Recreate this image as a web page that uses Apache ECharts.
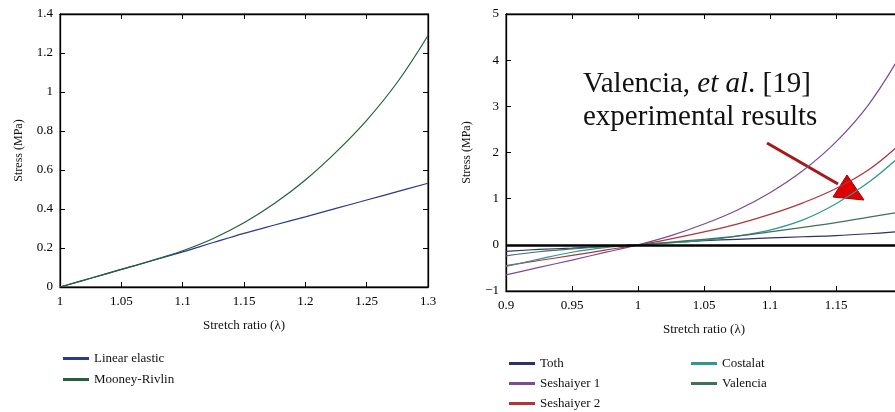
<!DOCTYPE html>
<html>
<head>
<meta charset="utf-8">
<script src="https://cdn.jsdelivr.net/npm/echarts@6/dist/echarts.min.js"></script>
<style>
  html, body { margin: 0; padding: 0; background: #fff; }
  #chart { width: 895px; height: 412px; }
</style>
</head>
<body>
<div id="chart"></div>
<script>
// left panel: stretch ratio vs stress
const leftX = [1, 1.025, 1.05, 1.075, 1.1, 1.125, 1.15, 1.175, 1.2, 1.225, 1.25, 1.275, 1.3]
const linearElastic = [0, 0.045, 0.09, 0.135, 0.18, 0.228, 0.275, 0.318, 0.36, 0.403, 0.446, 0.489, 0.532]
const mooneyRivlin = [0, 0.045, 0.09, 0.136, 0.186, 0.249, 0.329, 0.429, 0.549, 0.692, 0.855, 1.05, 1.29]

// right panel: model comparison
const rightX = [0.9, 0.925, 0.95, 0.975, 1, 1.025, 1.05, 1.075, 1.1, 1.125, 1.15, 1.175, 1.2]
const toth = [-0.14, -0.1, -0.07, -0.035, 0, 0.05, 0.09, 0.12, 0.15, 0.175, 0.2, 0.24, 0.29]
const seshaiyer1 = [-0.65, -0.49, -0.33, -0.165, 0, 0.2, 0.45, 0.75, 1.13, 1.61, 2.23, 3.05, 4.17]
const seshaiyer2 = [-0.45, -0.34, -0.23, -0.115, 0, 0.13, 0.28, 0.45, 0.66, 0.91, 1.22, 1.63, 2.22]
const costalat = [-0.47, -0.31, -0.16, -0.06, 0, 0.04, 0.1, 0.19, 0.32, 0.54, 0.89, 1.36, 1.96]
const valencia = [-0.24, -0.15, -0.09, -0.04, 0, 0.06, 0.12, 0.19, 0.28, 0.38, 0.48, 0.6, 0.72]

const leftXTicks = { min: 1, max: 1.3, interval: 0.05 }
const leftYTicks = { min: 0, max: 1.4, interval: 0.2 }
const rightXTicks = { min: 0.9, max: 1.2, interval: 0.05 }
const rightYTicks = { min: -1, max: 5, interval: 1 }

const serif = 'Liberation Serif'

function pairs(xs, ys) {
  return xs.map((x, i) => [x, ys[i]])
}

function fmt(v) {
  return String(+v.toFixed(2)).replace('-', '\u2212')
}

// main axis (with labels) + mirror axis (ticks only) for a boxed frame
function xAxes(gridIndex, ticks) {
  const base = {
    gridIndex,
    type: 'value',
    ...ticks,
    axisLine: { onZero: false, lineStyle: { color: '#000', width: 1.3 } },
    axisTick: { inside: true, length: 5, lineStyle: { color: '#000' } },
    splitLine: { show: false },
  }
  return [
    {
      ...base,
      position: 'bottom',
      axisLabel: { formatter: fmt, color: '#000', fontFamily: serif, fontSize: 13, margin: 8 },
      name: 'Stretch ratio (\u03bb)',
      nameLocation: 'middle',
      nameGap: 32,
      nameTextStyle: { color: '#111', fontFamily: serif, fontSize: 13 },
    },
    { ...base, position: 'top', axisLabel: { show: false } },
  ]
}

function yAxes(gridIndex, ticks, gap) {
  const base = {
    gridIndex,
    type: 'value',
    ...ticks,
    axisLine: { onZero: false, lineStyle: { color: '#000', width: 1.3 } },
    axisTick: { inside: true, length: 5, lineStyle: { color: '#000' } },
    splitLine: { show: false },
  }
  return [
    {
      ...base,
      position: 'left',
      axisLabel: { formatter: fmt, color: '#000', fontFamily: serif, fontSize: 13, margin: 7 },
      name: 'Stress (MPa)',
      nameLocation: 'middle',
      nameGap: gap,
      nameTextStyle: { color: '#111', fontFamily: serif, fontSize: 12 },
    },
    { ...base, position: 'right', axisLabel: { show: false } },
  ]
}

function line(name, xs, ys, color, axisIdx) {
  return {
    name,
    type: 'line',
    xAxisIndex: axisIdx,
    yAxisIndex: axisIdx,
    data: pairs(xs, ys),
    smooth: 0.4,
    showSymbol: false,
    lineStyle: { color, width: 1.2 },
    itemStyle: { color },
  }
}

const legendText = { color: '#111', fontFamily: serif, fontSize: 13 }
const legendBase = {
  orient: 'vertical', height: 70, itemWidth: 26, itemHeight: 3, itemGap: 7,
  icon: 'rect', textStyle: legendText,
}

const option = {
  animation: false,
  grid: [
    { left: 60, top: 14, width: 368, height: 273, show: true, borderColor: '#000', borderWidth: 1, outerBoundsMode: 'none' },
    // right panel runs past the page edge, as in the cropped original
    { left: 506, top: 14, width: 396, height: 277, show: true, borderColor: '#000', borderWidth: 1, outerBoundsMode: 'none' },
  ],
  xAxis: [...xAxes(0, leftXTicks), ...xAxes(1, rightXTicks)],
  yAxis: [...yAxes(0, leftYTicks, 35), ...yAxes(1, rightYTicks, 33)],
  legend: [
    { ...legendBase, data: ['Linear elastic', 'Mooney-Rivlin'], left: 58, top: 347, itemGap: 8 },
    { ...legendBase, data: ['Toth', 'Seshaiyer 1', 'Seshaiyer 2'], left: 504, top: 352 },
    { ...legendBase, data: ['Costalat', 'Valencia'], left: 686, top: 352 },
  ],
  series: [
    line('Linear elastic', leftX, linearElastic, '#2a3a8c', 0),
    line('Mooney-Rivlin', leftX, mooneyRivlin, '#24603a', 0),
    line('Toth', rightX, toth, '#2c3266', 2),
    line('Seshaiyer 1', rightX, seshaiyer1, '#7d4a94', 2),
    line('Seshaiyer 2', rightX, seshaiyer2, '#b2343a', 2),
    line('Costalat', rightX, costalat, '#2f9595', 2),
    {
      ...line('Valencia', rightX, valencia, '#3f7258', 2),
      // thick zero reference line
      markLine: {
        silent: true,
        symbol: 'none',
        label: { show: false },
        lineStyle: { color: '#000', width: 2.5, type: 'solid' },
        data: [{ yAxis: 0 }],
      },
    },
  ],
  graphic: [
    {
      type: 'text',
      left: 583,
      top: 70,
      style: {
        text: '{n|Valencia, }{i|et al}{n|. [19]}\n{n|experimental results}',
        fill: '#111',
        rich: {
          n: { fontFamily: serif, fontSize: 29, lineHeight: 33, fill: '#111' },
          i: { fontFamily: serif, fontSize: 29, lineHeight: 33, fontStyle: 'italic', fill: '#111' },
        },
      },
    },
    {
      type: 'line',
      shape: { x1: 767, y1: 143, x2: 838, y2: 184 },
      style: { stroke: '#a81818', lineWidth: 3 },
    },
    {
      type: 'polygon',
      shape: { points: [[847, 175], [833, 197], [864, 200]] },
      style: { fill: '#e00000', stroke: '#a00000', lineWidth: 1 },
    },
  ],
}

const chart = echarts.init(document.getElementById('chart'))
chart.setOption(option)
</script>
</body>
</html>
